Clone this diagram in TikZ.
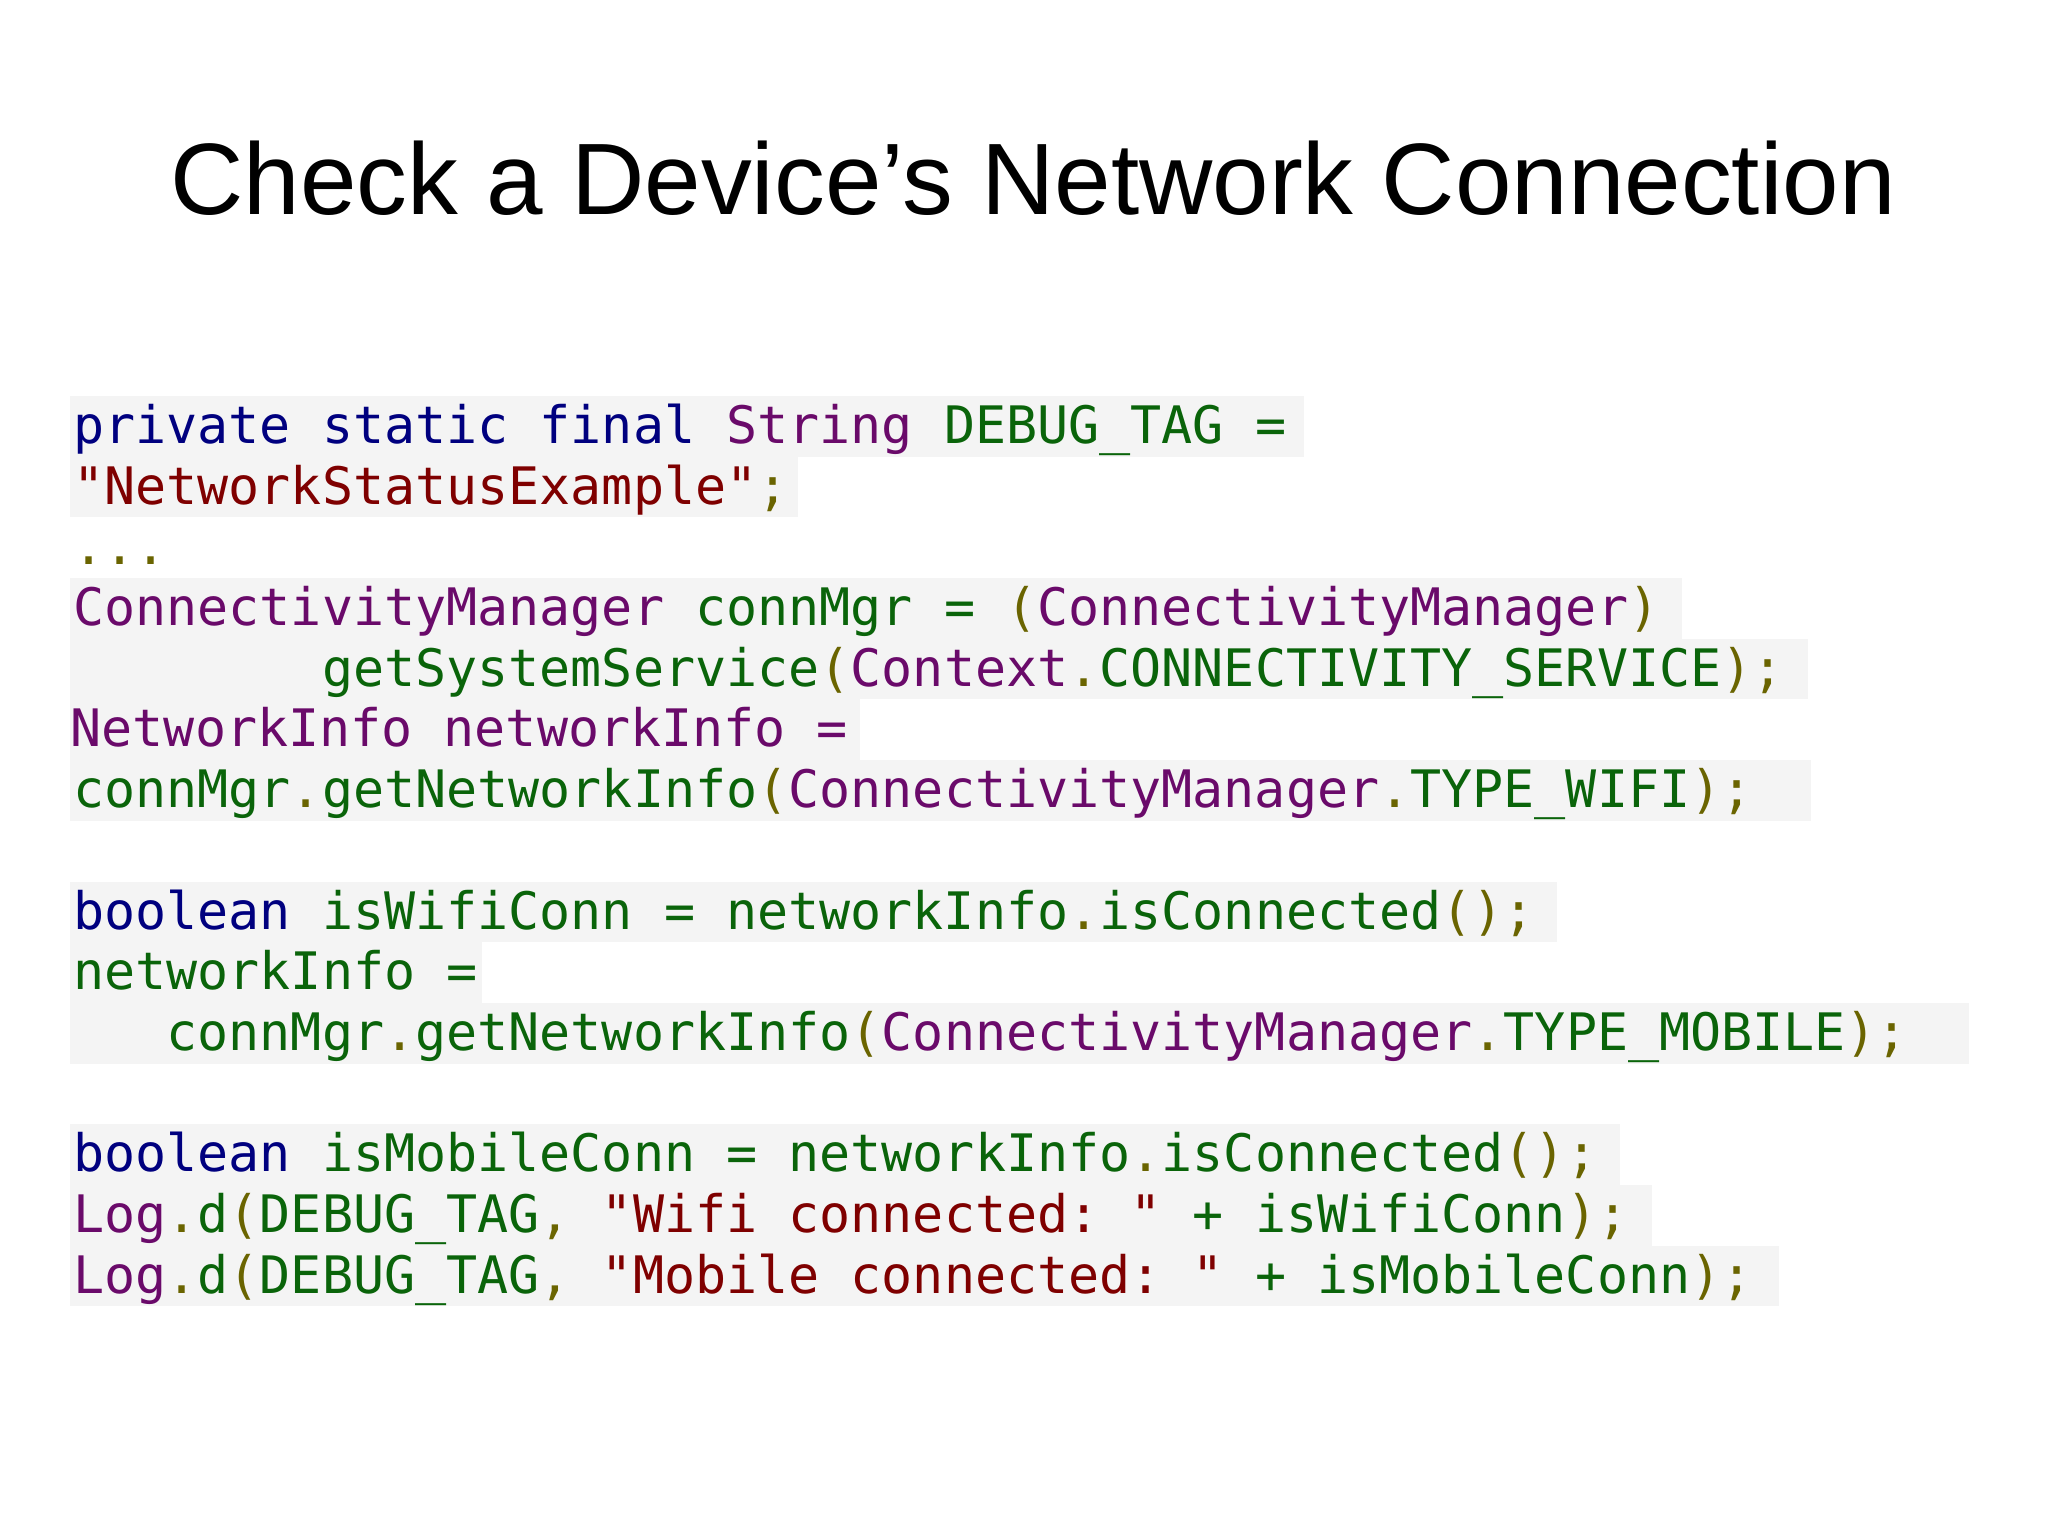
\documentclass[tikz,border=0pt]{standalone}
\usepackage{fontspec}
\setmainfont{Liberation Sans}
\setmonofont{DejaVu Sans Mono}
\definecolor{ckw}{HTML}{00007F}
\definecolor{cty}{HTML}{6A0A6A}
\definecolor{cid}{HTML}{0A640A}
\definecolor{cst}{HTML}{7F0000}
\definecolor{cpu}{HTML}{6A6400}
\definecolor{cbg}{HTML}{F4F4F4}
\newcommand{\ckw}[1]{\textcolor{ckw}{#1}}
\newcommand{\cty}[1]{\textcolor{cty}{#1}}
\newcommand{\cid}[1]{\textcolor{cid}{#1}}
\newcommand{\cst}[1]{\textcolor{cst}{#1}}
\newcommand{\cpu}[1]{\textcolor{cpu}{#1}}
\newcommand{\indentsp}[1]{\hspace*{#1\fontcharwd\font`x}}
\begin{document}
\begin{tikzpicture}[x=0.013196cm,y=-0.013196cm,
  codeline/.style={anchor=base west,inner sep=0pt,font=\ttfamily\fontsize{14.7pt}{17pt}\selectfont},
  hl/.style={fill=cbg,draw=none}]
\useasboundingbox (0,0) rectangle (1552,1164);
\fill[white] (0,0) rectangle (1552,1164);
\node[font=\fontsize{28.9pt}{34pt}\selectfont,text=black] (title) at (783,135) {Check a Device\char"0027 s Network Connection};
% highlights
\foreach \a/\b/\c in {300/346/988,346/392/605,438/484/1275,484/530/1370,530/576/652,576/622/1372,668/714/1180,714/760/365,760/806/1492,852/898/1228,898/944/1252,944/990/1348}
  \fill[hl] (53,\a) rectangle (\c,\b);
\node[codeline] (l1) at (55,336) {\ckw{private static final} \cty{String} \cid{DEBUG\_TAG =}};
\node[codeline] (l2) at (55,382) {\cst{"NetworkStatusExample"}\cpu{;}};
\node[codeline] (l3) at (55,428) {\cpu{...}};
\node[codeline] (l4) at (55,474) {\cty{ConnectivityManager} \cid{connMgr =} \cpu{(}\cty{ConnectivityManager}\cpu{)}};
\node[codeline] (l5) at (55,520) {\indentsp{8}\cid{getSystemService}\cpu{(}\cty{Context}\cpu{.}\cid{CONNECTIVITY\_SERVICE}\cpu{);}};
\node[codeline] (l6) at (53,566) {\cty{NetworkInfo networkInfo =}};
\node[codeline] (l7) at (55,612) {\cid{connMgr}\cpu{.}\cid{getNetworkInfo}\cpu{(}\cty{ConnectivityManager}\cpu{.}\cid{TYPE\_WIFI}\cpu{);}};
\node[codeline] (l8) at (55,704) {\ckw{boolean} \cid{isWifiConn = networkInfo}\cpu{.}\cid{isConnected}\cpu{();}};
\node[codeline] (l9) at (55,750) {\cid{networkInfo =}};
\node[codeline] (l10) at (55,796) {\indentsp{3}\cid{connMgr}\cpu{.}\cid{getNetworkInfo}\cpu{(}\cty{ConnectivityManager}\cpu{.}\cid{TYPE\_MOBILE}\cpu{);}};
\node[codeline] (l11) at (55,888) {\ckw{boolean} \cid{isMobileConn = networkInfo}\cpu{.}\cid{isConnected}\cpu{();}};
\node[codeline] (l12) at (55,934) {\cty{Log}\cpu{.}\cid{d}\cpu{(}\cid{DEBUG\_TAG}\cpu{,} \cst{"Wifi connected: "} \cid{+ isWifiConn}\cpu{);}};
\node[codeline] (l13) at (55,980) {\cty{Log}\cpu{.}\cid{d}\cpu{(}\cid{DEBUG\_TAG}\cpu{,} \cst{"Mobile connected: "} \cid{+ isMobileConn}\cpu{);}};
\end{tikzpicture}
\end{document}
